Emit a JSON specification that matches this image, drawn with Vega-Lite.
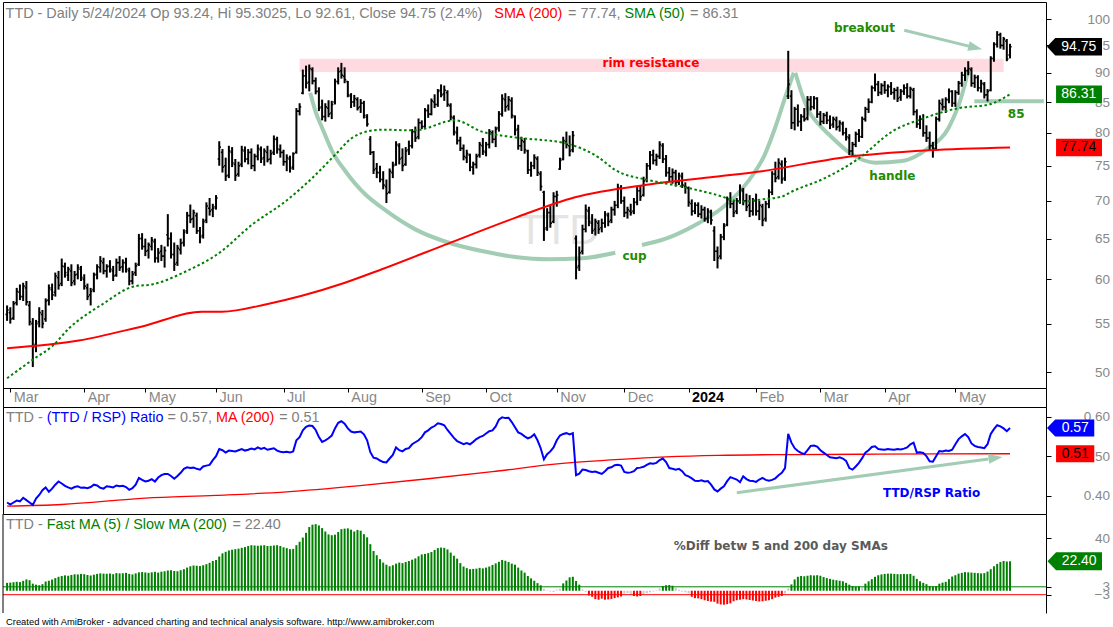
{
  "$schema": "https://vega.github.io/schema/vega-lite/v6.json",
  "background": "#ffffff",
  "padding": {"left": 1, "top": 1, "right": 0, "bottom": 0},
  "config": {
    "view": {"stroke": "#000000", "strokeWidth": 1},
    "axis": {"grid": false, "labelFont": "Liberation Sans", "labelColor": "#888888", "tickColor": "#000000", "domainColor": "#000000", "labelOverlap": false, "labelFlush": false, "labelBound": false},
    "text": {"font": "Liberation Sans"}
  },
  "datasets": {
    "bars": [
      {"i":-1,"o":56.0,"h":57.0,"l":55.3,"c":56.5,"r":0.383,"d":6.0},
      {"i":0,"o":56.2,"h":56.8,"l":55.0,"c":55.5,"r":0.378,"d":6.2},
      {"i":1,"o":55.6,"h":57.5,"l":55.4,"c":57.2,"r":0.383,"d":6.5},
      {"i":2,"o":57.3,"h":59.0,"l":57.0,"c":58.6,"r":0.388,"d":6.8},
      {"i":3,"o":58.5,"h":59.4,"l":57.6,"c":58.0,"r":0.386,"d":6.6},
      {"i":4,"o":58.0,"h":59.6,"l":57.5,"c":59.2,"r":0.395,"d":7.5},
      {"i":5,"o":59.0,"h":59.8,"l":57.0,"c":57.4,"r":0.389,"d":8.6},
      {"i":6,"o":57.0,"h":57.5,"l":54.8,"c":55.2,"r":0.383,"d":8.0},
      {"i":7,"o":55.0,"h":55.6,"l":50.5,"c":52.5,"r":0.377,"d":5.4},
      {"i":8,"o":52.8,"h":55.4,"l":52.0,"c":55.0,"r":0.393,"d":4.6},
      {"i":9,"o":55.2,"h":56.8,"l":54.6,"c":56.2,"r":0.402,"d":4.2},
      {"i":10,"o":56.0,"h":56.5,"l":54.5,"c":55.0,"r":0.414,"d":5.0},
      {"i":11,"o":55.5,"h":57.8,"l":55.2,"c":57.5,"r":0.421,"d":7.0},
      {"i":12,"o":57.6,"h":59.4,"l":57.0,"c":59.0,"r":0.410,"d":7.6},
      {"i":13,"o":58.8,"h":59.5,"l":57.6,"c":58.2,"r":0.418,"d":8.5},
      {"i":14,"o":58.5,"h":60.8,"l":58.0,"c":60.4,"r":0.428,"d":9.6},
      {"i":15,"o":60.2,"h":61.0,"l":58.8,"c":59.3,"r":0.436,"d":10.6},
      {"i":16,"o":59.5,"h":62.5,"l":59.2,"c":61.6,"r":0.431,"d":11.2},
      {"i":17,"o":61.5,"h":62.0,"l":60.2,"c":60.8,"r":0.425,"d":11.7},
      {"i":18,"o":60.5,"h":61.5,"l":59.8,"c":61.2,"r":0.421,"d":11.4},
      {"i":19,"o":61.0,"h":61.8,"l":59.2,"c":59.6,"r":0.418,"d":12.0},
      {"i":20,"o":59.8,"h":61.0,"l":59.3,"c":60.5,"r":0.422,"d":12.5},
      {"i":21,"o":60.6,"h":61.8,"l":60.0,"c":61.4,"r":0.424,"d":12.4},
      {"i":22,"o":61.2,"h":61.6,"l":59.8,"c":60.2,"r":0.420,"d":12.8},
      {"i":23,"o":60.0,"h":60.6,"l":58.8,"c":59.2,"r":0.421,"d":12.6},
      {"i":24,"o":59.0,"h":59.5,"l":57.6,"c":58.0,"r":0.419,"d":12.0},
      {"i":25,"o":58.2,"h":59.0,"l":57.0,"c":58.6,"r":0.422,"d":11.6},
      {"i":26,"o":58.8,"h":60.8,"l":58.5,"c":60.5,"r":0.428,"d":12.2},
      {"i":27,"o":60.6,"h":61.8,"l":60.0,"c":61.5,"r":0.426,"d":12.8},
      {"i":28,"o":61.4,"h":62.8,"l":60.8,"c":62.2,"r":0.420,"d":13.2},
      {"i":29,"o":62.0,"h":62.6,"l":60.6,"c":61.0,"r":0.418,"d":13.0},
      {"i":30,"o":61.0,"h":61.8,"l":60.2,"c":61.5,"r":0.424,"d":12.9},
      {"i":31,"o":61.6,"h":62.3,"l":60.8,"c":61.2,"r":0.423,"d":13.1},
      {"i":32,"o":61.0,"h":61.6,"l":59.8,"c":60.4,"r":0.421,"d":12.6},
      {"i":33,"o":60.5,"h":62.5,"l":60.3,"c":62.0,"r":0.426,"d":13.4},
      {"i":34,"o":62.0,"h":62.8,"l":61.0,"c":61.4,"r":0.424,"d":13.2},
      {"i":35,"o":61.5,"h":62.4,"l":60.8,"c":62.0,"r":0.425,"d":13.3},
      {"i":36,"o":62.0,"h":62.6,"l":60.8,"c":61.2,"r":0.422,"d":13.6},
      {"i":37,"o":61.0,"h":61.4,"l":59.3,"c":59.8,"r":0.415,"d":12.8},
      {"i":38,"o":59.8,"h":61.0,"l":59.4,"c":60.6,"r":0.419,"d":12.4},
      {"i":39,"o":60.8,"h":62.0,"l":60.4,"c":61.6,"r":0.428,"d":13.2},
      {"i":40,"o":61.8,"h":65.6,"l":61.6,"c":65.0,"r":0.445,"d":14.0},
      {"i":41,"o":65.0,"h":65.7,"l":63.6,"c":64.0,"r":0.440,"d":14.2},
      {"i":42,"o":64.0,"h":65.0,"l":62.8,"c":63.4,"r":0.436,"d":13.9},
      {"i":43,"o":63.5,"h":64.5,"l":62.5,"c":64.2,"r":0.438,"d":13.6},
      {"i":44,"o":64.0,"h":65.2,"l":63.5,"c":64.8,"r":0.442,"d":14.0},
      {"i":45,"o":64.6,"h":65.0,"l":62.0,"c":62.6,"r":0.436,"d":14.4},
      {"i":46,"o":62.5,"h":63.8,"l":62.0,"c":63.2,"r":0.446,"d":13.8},
      {"i":47,"o":63.4,"h":64.2,"l":62.2,"c":62.8,"r":0.452,"d":14.5},
      {"i":48,"o":62.8,"h":64.0,"l":61.4,"c":63.5,"r":0.455,"d":14.8},
      {"i":49,"o":65.5,"h":68.2,"l":64.0,"c":65.0,"r":0.455,"d":15.4},
      {"i":50,"o":65.0,"h":65.8,"l":62.5,"c":63.0,"r":0.450,"d":15.6},
      {"i":51,"o":63.0,"h":64.5,"l":61.0,"c":61.8,"r":0.443,"d":15.0},
      {"i":52,"o":62.0,"h":64.2,"l":61.6,"c":63.8,"r":0.450,"d":14.8},
      {"i":53,"o":63.6,"h":65.0,"l":63.0,"c":64.4,"r":0.458,"d":15.6},
      {"i":54,"o":64.5,"h":66.2,"l":64.0,"c":65.8,"r":0.468,"d":16.4},
      {"i":55,"o":66.0,"h":68.5,"l":65.6,"c":68.0,"r":0.472,"d":17.6},
      {"i":56,"o":68.0,"h":69.5,"l":67.0,"c":67.5,"r":0.470,"d":18.6},
      {"i":57,"o":67.6,"h":68.8,"l":66.4,"c":68.4,"r":0.471,"d":19.2},
      {"i":58,"o":68.0,"h":68.4,"l":65.6,"c":66.0,"r":0.468,"d":19.0},
      {"i":59,"o":66.0,"h":66.5,"l":64.4,"c":65.2,"r":0.466,"d":18.8},
      {"i":60,"o":65.4,"h":67.6,"l":65.0,"c":67.2,"r":0.474,"d":19.4},
      {"i":61,"o":67.4,"h":69.8,"l":67.0,"c":69.3,"r":0.476,"d":20.2},
      {"i":62,"o":69.0,"h":70.4,"l":68.0,"c":68.6,"r":0.478,"d":21.2},
      {"i":63,"o":68.8,"h":69.6,"l":67.8,"c":69.0,"r":0.490,"d":22.6},
      {"i":64,"o":69.2,"h":70.8,"l":68.8,"c":70.4,"r":0.500,"d":23.4},
      {"i":65,"o":76.0,"h":78.7,"l":75.0,"c":77.8,"r":0.518,"d":26.0},
      {"i":66,"o":77.0,"h":77.5,"l":74.0,"c":74.8,"r":0.515,"d":28.4},
      {"i":67,"o":75.0,"h":76.2,"l":72.8,"c":73.5,"r":0.509,"d":29.6},
      {"i":68,"o":73.6,"h":78.0,"l":73.2,"c":77.2,"r":0.514,"d":30.6},
      {"i":69,"o":77.0,"h":77.8,"l":74.8,"c":75.4,"r":0.513,"d":31.2},
      {"i":70,"o":75.2,"h":76.0,"l":72.8,"c":73.6,"r":0.512,"d":31.6},
      {"i":71,"o":73.8,"h":75.6,"l":73.4,"c":75.0,"r":0.515,"d":32.0},
      {"i":72,"o":75.2,"h":78.0,"l":74.8,"c":77.4,"r":0.518,"d":32.6},
      {"i":73,"o":77.2,"h":77.9,"l":75.5,"c":76.0,"r":0.514,"d":33.2},
      {"i":74,"o":76.0,"h":77.5,"l":75.2,"c":77.0,"r":0.516,"d":34.0},
      {"i":75,"o":77.0,"h":77.6,"l":74.5,"c":75.0,"r":0.519,"d":34.6},
      {"i":76,"o":75.0,"h":76.8,"l":74.2,"c":76.4,"r":0.517,"d":34.4},
      {"i":77,"o":76.4,"h":78.2,"l":75.8,"c":77.6,"r":0.522,"d":34.2},
      {"i":78,"o":77.4,"h":77.9,"l":75.4,"c":76.0,"r":0.518,"d":34.4},
      {"i":79,"o":76.2,"h":77.6,"l":75.0,"c":77.2,"r":0.521,"d":34.6},
      {"i":80,"o":77.0,"h":78.0,"l":75.5,"c":75.9,"r":0.516,"d":34.0},
      {"i":81,"o":76.0,"h":77.4,"l":75.2,"c":76.8,"r":0.518,"d":34.1},
      {"i":82,"o":77.0,"h":79.6,"l":76.6,"c":79.0,"r":0.520,"d":34.4},
      {"i":83,"o":79.0,"h":79.4,"l":76.8,"c":77.5,"r":0.514,"d":34.6},
      {"i":84,"o":77.4,"h":78.2,"l":76.2,"c":77.0,"r":0.511,"d":34.0},
      {"i":85,"o":77.0,"h":77.4,"l":75.0,"c":75.6,"r":0.510,"d":33.0},
      {"i":86,"o":75.6,"h":76.7,"l":74.2,"c":76.2,"r":0.511,"d":32.4},
      {"i":87,"o":76.0,"h":76.5,"l":74.0,"c":74.6,"r":0.509,"d":31.6},
      {"i":88,"o":74.8,"h":77.0,"l":74.4,"c":76.8,"r":0.512,"d":31.8},
      {"i":89,"o":77.0,"h":84.0,"l":76.8,"c":83.5,"r":0.540,"d":34.6},
      {"i":90,"o":83.5,"h":84.8,"l":82.8,"c":84.2,"r":0.548,"d":37.2},
      {"i":91,"o":86.5,"h":90.6,"l":86.3,"c":89.5,"r":0.565,"d":40.4},
      {"i":92,"o":89.5,"h":91.3,"l":87.3,"c":88.2,"r":0.574,"d":44.0},
      {"i":93,"o":88.4,"h":91.5,"l":86.8,"c":90.8,"r":0.577,"d":48.4},
      {"i":94,"o":90.6,"h":91.0,"l":88.0,"c":88.6,"r":0.576,"d":50.2},
      {"i":95,"o":88.6,"h":89.2,"l":86.3,"c":86.8,"r":0.566,"d":50.6},
      {"i":96,"o":86.8,"h":87.5,"l":83.5,"c":84.0,"r":0.548,"d":49.6},
      {"i":97,"o":84.2,"h":85.4,"l":82.0,"c":82.6,"r":0.536,"d":47.6},
      {"i":98,"o":82.6,"h":84.8,"l":81.8,"c":84.2,"r":0.540,"d":45.0},
      {"i":99,"o":84.0,"h":85.3,"l":82.5,"c":83.0,"r":0.545,"d":42.8},
      {"i":100,"o":83.2,"h":85.2,"l":82.2,"c":84.6,"r":0.552,"d":42.2},
      {"i":101,"o":85.0,"h":89.0,"l":84.6,"c":88.5,"r":0.570,"d":42.6},
      {"i":102,"o":88.5,"h":91.0,"l":88.0,"c":90.2,"r":0.584,"d":44.6},
      {"i":103,"o":90.4,"h":91.8,"l":89.0,"c":89.6,"r":0.588,"d":46.8},
      {"i":104,"o":89.4,"h":91.0,"l":88.2,"c":88.8,"r":0.582,"d":47.2},
      {"i":105,"o":88.5,"h":88.6,"l":85.8,"c":86.2,"r":0.570,"d":47.4},
      {"i":106,"o":86.0,"h":86.5,"l":84.0,"c":85.0,"r":0.562,"d":46.4},
      {"i":107,"o":85.0,"h":86.2,"l":84.2,"c":85.6,"r":0.560,"d":45.0},
      {"i":108,"o":85.4,"h":85.8,"l":83.6,"c":84.0,"r":0.561,"d":46.2},
      {"i":109,"o":84.2,"h":85.5,"l":83.2,"c":84.8,"r":0.562,"d":45.6},
      {"i":110,"o":84.8,"h":85.2,"l":82.3,"c":82.8,"r":0.555,"d":43.0},
      {"i":111,"o":82.5,"h":83.0,"l":81.0,"c":81.4,"r":0.540,"d":40.6},
      {"i":112,"o":79.0,"h":79.5,"l":76.6,"c":77.0,"r":0.510,"d":35.4},
      {"i":113,"o":77.0,"h":77.2,"l":73.8,"c":74.4,"r":0.496,"d":30.2},
      {"i":114,"o":74.6,"h":75.4,"l":73.2,"c":74.0,"r":0.494,"d":27.0},
      {"i":115,"o":74.0,"h":75.0,"l":72.6,"c":73.0,"r":0.489,"d":24.0},
      {"i":116,"o":73.0,"h":74.2,"l":71.6,"c":72.2,"r":0.485,"d":21.4},
      {"i":117,"o":72.0,"h":73.0,"l":69.7,"c":71.0,"r":0.484,"d":19.8},
      {"i":118,"o":71.2,"h":74.6,"l":71.0,"c":74.2,"r":0.494,"d":18.6},
      {"i":119,"o":74.0,"h":75.6,"l":73.2,"c":75.0,"r":0.503,"d":19.4},
      {"i":120,"o":75.2,"h":78.7,"l":75.0,"c":78.2,"r":0.522,"d":20.6},
      {"i":121,"o":78.0,"h":78.4,"l":75.2,"c":76.0,"r":0.515,"d":21.4},
      {"i":122,"o":76.2,"h":77.6,"l":74.2,"c":75.0,"r":0.512,"d":21.0},
      {"i":123,"o":75.2,"h":77.8,"l":75.0,"c":77.2,"r":0.518,"d":21.8},
      {"i":124,"o":77.4,"h":78.8,"l":76.6,"c":78.0,"r":0.520,"d":22.6},
      {"i":125,"o":78.0,"h":80.6,"l":77.6,"c":80.2,"r":0.530,"d":23.6},
      {"i":126,"o":80.2,"h":81.0,"l":78.6,"c":79.2,"r":0.535,"d":24.6},
      {"i":127,"o":79.4,"h":82.3,"l":79.0,"c":81.6,"r":0.540,"d":26.2},
      {"i":128,"o":81.6,"h":82.0,"l":80.6,"c":81.0,"r":0.548,"d":27.6},
      {"i":129,"o":81.0,"h":84.0,"l":80.8,"c":83.6,"r":0.560,"d":28.0},
      {"i":130,"o":83.6,"h":84.6,"l":82.4,"c":83.0,"r":0.565,"d":28.6},
      {"i":131,"o":83.0,"h":85.6,"l":82.8,"c":85.2,"r":0.572,"d":29.4},
      {"i":132,"o":85.0,"h":86.3,"l":84.0,"c":84.6,"r":0.576,"d":31.0},
      {"i":133,"o":84.6,"h":87.2,"l":84.2,"c":86.8,"r":0.583,"d":32.4},
      {"i":134,"o":87.0,"h":88.0,"l":85.8,"c":86.2,"r":0.581,"d":32.8},
      {"i":135,"o":86.4,"h":87.8,"l":85.2,"c":87.0,"r":0.578,"d":32.6},
      {"i":136,"o":86.6,"h":87.0,"l":84.2,"c":84.6,"r":0.566,"d":31.4},
      {"i":137,"o":84.4,"h":84.8,"l":82.0,"c":82.6,"r":0.556,"d":29.0},
      {"i":138,"o":82.4,"h":82.8,"l":79.6,"c":80.2,"r":0.546,"d":26.6},
      {"i":139,"o":80.0,"h":81.0,"l":78.2,"c":78.8,"r":0.538,"d":24.4},
      {"i":140,"o":78.8,"h":79.4,"l":77.2,"c":77.6,"r":0.534,"d":21.0},
      {"i":141,"o":77.6,"h":78.2,"l":75.8,"c":76.4,"r":0.530,"d":18.4},
      {"i":142,"o":76.2,"h":77.4,"l":75.4,"c":76.8,"r":0.533,"d":17.2},
      {"i":143,"o":76.6,"h":76.8,"l":74.2,"c":74.8,"r":0.530,"d":16.4},
      {"i":144,"o":74.8,"h":75.6,"l":73.7,"c":75.2,"r":0.536,"d":16.6},
      {"i":145,"o":75.2,"h":76.8,"l":74.6,"c":76.4,"r":0.543,"d":16.8},
      {"i":146,"o":76.6,"h":78.6,"l":76.2,"c":78.2,"r":0.548,"d":17.4},
      {"i":147,"o":78.0,"h":79.2,"l":76.6,"c":77.2,"r":0.551,"d":17.0},
      {"i":148,"o":77.0,"h":78.6,"l":76.4,"c":78.2,"r":0.557,"d":17.6},
      {"i":149,"o":78.2,"h":80.6,"l":77.6,"c":80.2,"r":0.563,"d":18.4},
      {"i":150,"o":80.0,"h":80.4,"l":78.4,"c":79.0,"r":0.565,"d":19.6},
      {"i":151,"o":79.0,"h":81.0,"l":77.8,"c":80.6,"r":0.575,"d":20.8},
      {"i":152,"o":80.8,"h":83.5,"l":80.2,"c":83.0,"r":0.592,"d":22.0},
      {"i":153,"o":83.0,"h":86.3,"l":82.6,"c":85.6,"r":0.598,"d":23.4},
      {"i":154,"o":85.4,"h":86.5,"l":83.4,"c":84.2,"r":0.596,"d":22.8},
      {"i":155,"o":84.4,"h":86.0,"l":83.6,"c":85.4,"r":0.597,"d":21.8},
      {"i":156,"o":85.2,"h":85.8,"l":82.3,"c":82.8,"r":0.586,"d":20.6},
      {"i":157,"o":82.6,"h":82.8,"l":79.6,"c":80.4,"r":0.573,"d":19.8},
      {"i":158,"o":80.6,"h":81.3,"l":77.4,"c":78.0,"r":0.560,"d":17.6},
      {"i":159,"o":78.0,"h":79.4,"l":77.2,"c":78.8,"r":0.556,"d":15.4},
      {"i":160,"o":78.6,"h":79.2,"l":76.8,"c":77.4,"r":0.550,"d":13.8},
      {"i":161,"o":77.2,"h":77.4,"l":73.8,"c":74.4,"r":0.545,"d":11.2},
      {"i":162,"o":74.4,"h":75.6,"l":73.4,"c":75.0,"r":0.548,"d":9.4},
      {"i":163,"o":75.0,"h":76.7,"l":74.5,"c":76.2,"r":0.555,"d":7.6},
      {"i":164,"o":76.0,"h":76.4,"l":73.5,"c":74.0,"r":0.540,"d":5.8},
      {"i":165,"o":73.8,"h":74.2,"l":71.4,"c":72.0,"r":0.520,"d":4.2},
      {"i":166,"o":71.2,"h":71.4,"l":64.7,"c":66.2,"r":0.492,"d":1.6},
      {"i":167,"o":66.4,"h":69.0,"l":66.0,"c":68.4,"r":0.505,"d":0.4},
      {"i":168,"o":68.4,"h":69.4,"l":66.4,"c":67.0,"r":0.512,"d":-0.6},
      {"i":169,"o":67.2,"h":71.2,"l":67.0,"c":70.6,"r":0.522,"d":-1.0},
      {"i":170,"o":70.6,"h":71.4,"l":69.2,"c":70.8,"r":0.540,"d":0.8},
      {"i":171,"o":74.5,"h":76.2,"l":74.4,"c":75.8,"r":0.552,"d":1.6},
      {"i":172,"o":76.0,"h":79.4,"l":75.8,"c":78.8,"r":0.556,"d":5.6},
      {"i":173,"o":78.6,"h":80.2,"l":77.6,"c":78.2,"r":0.558,"d":7.8},
      {"i":174,"o":78.0,"h":79.6,"l":76.4,"c":77.2,"r":0.555,"d":10.2},
      {"i":175,"o":77.4,"h":80.3,"l":77.0,"c":79.6,"r":0.558,"d":10.6},
      {"i":176,"o":65.0,"h":65.4,"l":60.0,"c":61.4,"r":0.452,"d":7.4},
      {"i":177,"o":61.6,"h":64.0,"l":61.0,"c":63.2,"r":0.456,"d":4.6},
      {"i":178,"o":63.4,"h":66.8,"l":63.0,"c":66.2,"r":0.466,"d":1.0},
      {"i":179,"o":66.2,"h":69.5,"l":65.8,"c":68.8,"r":0.465,"d":-0.8},
      {"i":180,"o":68.6,"h":69.2,"l":66.6,"c":67.2,"r":0.462,"d":-3.6},
      {"i":181,"o":67.0,"h":68.2,"l":65.6,"c":66.0,"r":0.460,"d":-4.6},
      {"i":182,"o":66.2,"h":67.6,"l":65.4,"c":67.2,"r":0.461,"d":-6.4},
      {"i":183,"o":67.0,"h":67.4,"l":65.6,"c":66.2,"r":0.458,"d":-6.8},
      {"i":184,"o":66.4,"h":67.6,"l":65.8,"c":67.0,"r":0.455,"d":-6.0},
      {"i":185,"o":67.0,"h":68.6,"l":66.4,"c":68.2,"r":0.462,"d":-6.8},
      {"i":186,"o":68.0,"h":68.4,"l":66.6,"c":67.2,"r":0.470,"d":-6.6},
      {"i":187,"o":67.4,"h":69.2,"l":67.0,"c":68.8,"r":0.472,"d":-6.2},
      {"i":188,"o":68.8,"h":70.0,"l":68.0,"c":69.4,"r":0.477,"d":-5.6},
      {"i":189,"o":69.4,"h":72.4,"l":69.0,"c":71.8,"r":0.478,"d":-5.0},
      {"i":190,"o":71.8,"h":72.2,"l":69.6,"c":70.0,"r":0.476,"d":-4.4},
      {"i":191,"o":70.0,"h":70.6,"l":67.8,"c":68.4,"r":0.460,"d":-2.2},
      {"i":192,"o":68.4,"h":69.2,"l":67.6,"c":68.8,"r":0.458,"d":-1.8},
      {"i":193,"o":68.6,"h":69.6,"l":68.0,"c":68.4,"r":0.459,"d":-2.4},
      {"i":194,"o":68.6,"h":70.4,"l":68.2,"c":69.8,"r":0.462,"d":-4.0},
      {"i":195,"o":69.8,"h":72.0,"l":69.4,"c":71.4,"r":0.470,"d":-4.4},
      {"i":196,"o":71.4,"h":72.2,"l":70.0,"c":70.6,"r":0.471,"d":-4.0},
      {"i":197,"o":70.8,"h":73.4,"l":70.6,"c":72.8,"r":0.473,"d":-2.6},
      {"i":198,"o":73.0,"h":75.4,"l":72.6,"c":75.0,"r":0.478,"d":-1.8},
      {"i":199,"o":75.0,"h":77.2,"l":74.4,"c":76.6,"r":0.482,"d":-1.2},
      {"i":200,"o":76.6,"h":77.4,"l":75.2,"c":75.8,"r":0.481,"d":-0.6},
      {"i":201,"o":75.8,"h":76.8,"l":75.0,"c":76.4,"r":0.483,"d":0.4},
      {"i":202,"o":76.4,"h":78.7,"l":76.0,"c":78.2,"r":0.490,"d":1.8},
      {"i":203,"o":78.0,"h":78.4,"l":75.4,"c":76.0,"r":0.494,"d":3.6},
      {"i":204,"o":76.0,"h":76.6,"l":73.4,"c":74.0,"r":0.485,"d":4.2},
      {"i":205,"o":74.0,"h":74.8,"l":72.6,"c":73.4,"r":0.470,"d":4.4},
      {"i":206,"o":73.4,"h":74.6,"l":72.4,"c":74.0,"r":0.468,"d":3.8},
      {"i":207,"o":74.0,"h":74.4,"l":72.0,"c":72.6,"r":0.466,"d":2.2},
      {"i":208,"o":72.6,"h":74.0,"l":72.2,"c":73.6,"r":0.468,"d":0.8},
      {"i":209,"o":73.4,"h":74.0,"l":71.8,"c":72.2,"r":0.462,"d":-0.6},
      {"i":210,"o":72.0,"h":72.6,"l":71.0,"c":71.9,"r":0.452,"d":-1.2},
      {"i":211,"o":71.8,"h":72.0,"l":69.2,"c":69.8,"r":0.449,"d":-2.0},
      {"i":212,"o":69.6,"h":70.2,"l":68.0,"c":68.6,"r":0.444,"d":-4.6},
      {"i":213,"o":68.6,"h":69.8,"l":68.2,"c":69.4,"r":0.438,"d":-5.6},
      {"i":214,"o":69.4,"h":69.8,"l":67.8,"c":68.2,"r":0.437,"d":-5.8},
      {"i":215,"o":68.2,"h":69.4,"l":67.6,"c":68.8,"r":0.439,"d":-6.4},
      {"i":216,"o":68.8,"h":69.2,"l":67.2,"c":67.6,"r":0.436,"d":-7.2},
      {"i":217,"o":67.6,"h":69.0,"l":67.0,"c":68.6,"r":0.437,"d":-7.8},
      {"i":218,"o":68.4,"h":68.8,"l":66.8,"c":67.4,"r":0.428,"d":-8.2},
      {"i":219,"o":66.0,"h":66.6,"l":62.2,"c":63.4,"r":0.416,"d":-8.4},
      {"i":220,"o":63.4,"h":64.0,"l":61.3,"c":62.6,"r":0.411,"d":-9.8},
      {"i":221,"o":62.8,"h":65.6,"l":62.4,"c":65.2,"r":0.418,"d":-10.4},
      {"i":222,"o":65.2,"h":67.0,"l":64.8,"c":66.6,"r":0.424,"d":-10.6},
      {"i":223,"o":66.8,"h":70.6,"l":66.6,"c":70.2,"r":0.437,"d":-10.2},
      {"i":224,"o":70.2,"h":71.2,"l":69.0,"c":69.6,"r":0.447,"d":-9.6},
      {"i":225,"o":69.6,"h":70.0,"l":67.8,"c":68.4,"r":0.444,"d":-8.0},
      {"i":226,"o":68.6,"h":70.4,"l":68.2,"c":70.0,"r":0.441,"d":-7.2},
      {"i":227,"o":70.0,"h":72.3,"l":69.6,"c":71.6,"r":0.434,"d":-6.8},
      {"i":228,"o":71.4,"h":71.8,"l":69.4,"c":70.0,"r":0.449,"d":-6.4},
      {"i":229,"o":70.0,"h":71.0,"l":68.6,"c":69.2,"r":0.442,"d":-6.6},
      {"i":230,"o":69.4,"h":70.8,"l":67.8,"c":68.6,"r":0.438,"d":-7.0},
      {"i":231,"o":68.6,"h":70.4,"l":68.0,"c":70.0,"r":0.437,"d":-7.4},
      {"i":232,"o":70.0,"h":71.0,"l":68.0,"c":68.6,"r":0.435,"d":-7.8},
      {"i":233,"o":68.6,"h":70.0,"l":67.4,"c":69.4,"r":0.441,"d":-8.2},
      {"i":234,"o":69.2,"h":69.6,"l":66.6,"c":67.4,"r":0.445,"d":-8.0},
      {"i":235,"o":67.6,"h":70.0,"l":67.2,"c":69.6,"r":0.440,"d":-7.6},
      {"i":236,"o":69.6,"h":71.6,"l":69.0,"c":71.2,"r":0.438,"d":-7.2},
      {"i":237,"o":71.2,"h":74.2,"l":70.8,"c":73.8,"r":0.440,"d":-6.4},
      {"i":238,"o":73.8,"h":75.6,"l":72.6,"c":73.2,"r":0.444,"d":-5.2},
      {"i":239,"o":73.4,"h":76.1,"l":73.0,"c":75.4,"r":0.452,"d":-4.6},
      {"i":240,"o":75.2,"h":75.8,"l":72.4,"c":73.0,"r":0.458,"d":-4.0},
      {"i":241,"o":73.2,"h":76.2,"l":72.8,"c":75.6,"r":0.470,"d":-2.2},
      {"i":242,"o":86.0,"h":94.0,"l":85.5,"c":88.0,"r":0.556,"d":1.8},
      {"i":243,"o":86.0,"h":87.0,"l":80.6,"c":81.6,"r":0.534,"d":4.8},
      {"i":244,"o":81.6,"h":84.2,"l":80.4,"c":83.8,"r":0.520,"d":8.6},
      {"i":245,"o":83.8,"h":84.6,"l":81.0,"c":81.8,"r":0.513,"d":10.6},
      {"i":246,"o":81.8,"h":83.0,"l":80.3,"c":82.6,"r":0.508,"d":11.2},
      {"i":247,"o":82.6,"h":84.0,"l":81.8,"c":82.2,"r":0.505,"d":11.0},
      {"i":248,"o":82.4,"h":86.0,"l":82.0,"c":85.4,"r":0.515,"d":11.4},
      {"i":249,"o":85.4,"h":86.0,"l":83.6,"c":84.2,"r":0.526,"d":11.8},
      {"i":250,"o":84.2,"h":86.0,"l":83.8,"c":85.6,"r":0.527,"d":11.6},
      {"i":251,"o":85.6,"h":85.8,"l":82.4,"c":83.0,"r":0.524,"d":11.8},
      {"i":252,"o":83.0,"h":83.5,"l":81.2,"c":81.8,"r":0.515,"d":11.4},
      {"i":253,"o":81.8,"h":83.2,"l":81.4,"c":82.8,"r":0.509,"d":10.4},
      {"i":254,"o":82.8,"h":83.4,"l":81.4,"c":82.0,"r":0.503,"d":9.6},
      {"i":255,"o":82.0,"h":82.8,"l":80.6,"c":81.2,"r":0.497,"d":9.0},
      {"i":256,"o":81.4,"h":82.6,"l":80.8,"c":82.2,"r":0.496,"d":8.4},
      {"i":257,"o":82.0,"h":82.6,"l":80.4,"c":80.9,"r":0.495,"d":8.0},
      {"i":258,"o":81.0,"h":82.0,"l":80.2,"c":81.6,"r":0.497,"d":7.6},
      {"i":259,"o":81.4,"h":81.8,"l":79.6,"c":80.0,"r":0.494,"d":7.2},
      {"i":260,"o":80.0,"h":80.8,"l":78.8,"c":79.4,"r":0.488,"d":6.0},
      {"i":261,"o":79.2,"h":79.8,"l":76.6,"c":77.2,"r":0.470,"d":4.6},
      {"i":262,"o":77.2,"h":78.6,"l":76.4,"c":78.2,"r":0.466,"d":3.6},
      {"i":263,"o":78.2,"h":80.2,"l":77.8,"c":79.8,"r":0.474,"d":3.2},
      {"i":264,"o":79.8,"h":80.6,"l":78.6,"c":79.4,"r":0.483,"d":3.4},
      {"i":265,"o":79.4,"h":82.6,"l":79.2,"c":82.2,"r":0.495,"d":2.4},
      {"i":266,"o":82.2,"h":84.2,"l":81.8,"c":83.8,"r":0.509,"d":5.4},
      {"i":267,"o":83.8,"h":85.6,"l":83.2,"c":85.0,"r":0.515,"d":7.2},
      {"i":268,"o":85.0,"h":87.8,"l":84.8,"c":87.4,"r":0.523,"d":8.8},
      {"i":269,"o":87.4,"h":89.9,"l":86.8,"c":88.0,"r":0.525,"d":10.6},
      {"i":270,"o":88.0,"h":88.6,"l":86.0,"c":86.6,"r":0.518,"d":11.8},
      {"i":271,"o":86.6,"h":88.2,"l":86.2,"c":87.8,"r":0.517,"d":12.4},
      {"i":272,"o":87.8,"h":88.6,"l":86.4,"c":87.0,"r":0.516,"d":12.8},
      {"i":273,"o":87.0,"h":88.0,"l":85.8,"c":87.6,"r":0.518,"d":13.0},
      {"i":274,"o":87.6,"h":88.4,"l":86.2,"c":86.6,"r":0.517,"d":13.0},
      {"i":275,"o":86.6,"h":87.4,"l":85.4,"c":87.0,"r":0.516,"d":12.8},
      {"i":276,"o":87.0,"h":87.6,"l":85.0,"c":85.6,"r":0.518,"d":12.6},
      {"i":277,"o":85.8,"h":87.2,"l":85.2,"c":86.8,"r":0.517,"d":12.6},
      {"i":278,"o":86.8,"h":88.0,"l":86.2,"c":87.4,"r":0.519,"d":12.8},
      {"i":279,"o":87.4,"h":88.2,"l":85.6,"c":86.0,"r":0.522,"d":12.6},
      {"i":280,"o":86.0,"h":87.6,"l":85.6,"c":87.2,"r":0.530,"d":12.8},
      {"i":281,"o":87.0,"h":87.4,"l":82.8,"c":83.4,"r":0.534,"d":11.4},
      {"i":282,"o":83.4,"h":83.8,"l":80.8,"c":81.4,"r":0.509,"d":9.0},
      {"i":283,"o":81.4,"h":82.8,"l":80.6,"c":82.2,"r":0.510,"d":7.2},
      {"i":284,"o":82.2,"h":83.0,"l":79.4,"c":80.0,"r":0.508,"d":6.0},
      {"i":285,"o":80.0,"h":81.2,"l":78.6,"c":79.2,"r":0.500,"d":5.0},
      {"i":286,"o":79.2,"h":80.2,"l":77.2,"c":78.0,"r":0.487,"d":3.6},
      {"i":287,"o":78.0,"h":78.6,"l":76.2,"c":77.6,"r":0.486,"d":3.2},
      {"i":288,"o":77.6,"h":82.6,"l":77.4,"c":82.2,"r":0.500,"d":3.6},
      {"i":289,"o":82.2,"h":85.4,"l":81.8,"c":84.8,"r":0.513,"d":5.4},
      {"i":290,"o":84.6,"h":85.6,"l":83.6,"c":84.2,"r":0.512,"d":6.2},
      {"i":291,"o":84.2,"h":85.8,"l":83.2,"c":85.4,"r":0.514,"d":6.8},
      {"i":292,"o":85.4,"h":87.3,"l":84.8,"c":86.8,"r":0.513,"d":8.8},
      {"i":293,"o":86.8,"h":87.0,"l":84.2,"c":84.8,"r":0.516,"d":10.8},
      {"i":294,"o":84.8,"h":87.0,"l":84.2,"c":86.6,"r":0.530,"d":11.8},
      {"i":295,"o":86.6,"h":88.6,"l":86.2,"c":88.2,"r":0.543,"d":13.0},
      {"i":296,"o":88.2,"h":90.2,"l":87.6,"c":89.6,"r":0.550,"d":13.6},
      {"i":297,"o":89.6,"h":91.0,"l":88.6,"c":90.4,"r":0.556,"d":14.2},
      {"i":298,"o":90.4,"h":92.1,"l":89.6,"c":90.8,"r":0.548,"d":14.0},
      {"i":299,"o":90.6,"h":91.0,"l":87.6,"c":88.2,"r":0.532,"d":13.8},
      {"i":300,"o":88.2,"h":89.7,"l":87.4,"c":89.2,"r":0.526,"d":13.6},
      {"i":301,"o":89.2,"h":89.6,"l":86.8,"c":87.4,"r":0.523,"d":13.4},
      {"i":302,"o":87.4,"h":88.8,"l":86.6,"c":88.2,"r":0.522,"d":13.2},
      {"i":303,"o":88.0,"h":88.4,"l":85.6,"c":86.2,"r":0.520,"d":13.4},
      {"i":304,"o":86.2,"h":87.2,"l":85.1,"c":86.8,"r":0.530,"d":14.6},
      {"i":305,"o":87.0,"h":93.0,"l":86.8,"c":92.6,"r":0.556,"d":16.4},
      {"i":306,"o":92.6,"h":95.6,"l":92.0,"c":95.2,"r":0.568,"d":18.6},
      {"i":307,"o":95.2,"h":97.7,"l":94.6,"c":97.0,"r":0.578,"d":20.4},
      {"i":308,"o":97.0,"h":97.4,"l":94.4,"c":95.0,"r":0.575,"d":21.8},
      {"i":309,"o":95.0,"h":96.6,"l":94.2,"c":96.2,"r":0.570,"d":22.6},
      {"i":310,"o":95.8,"h":96.2,"l":92.1,"c":92.5,"r":0.563,"d":22.2},
      {"i":311,"o":93.24,"h":95.3025,"l":92.61,"c":94.75,"r":0.571,"d":22.4}
    ],
    "s200": [
      {"i":-1,"v":52.4},{"i":21.3,"v":53.2},{"i":41,"v":54.7},{"i":59.6,"v":56.3},{"i":65.8,"v":56.3},
      {"i":80.4,"v":57.2},{"i":90.7,"v":58.1},{"i":104.1,"v":59.6},{"i":115.6,"v":61.2},{"i":136.4,"v":64.4},
      {"i":157,"v":67.7},{"i":175.7,"v":70.5},{"i":198.7,"v":72.3},{"i":219.2,"v":73.4},{"i":233.8,"v":74.2},
      {"i":258.7,"v":76.2},{"i":285.8,"v":77.3},{"i":311,"v":77.74}
    ],
    "s50": [
      {"i":-1,"v":49.4},{"i":7.7,"v":51.4},{"i":13,"v":52.6},{"i":18.3,"v":54.5},{"i":28.5,"v":57.1},
      {"i":38.8,"v":59.2},{"i":44.1,"v":59.4},{"i":54.4,"v":60.9},{"i":65,"v":63.2},{"i":75.2,"v":66.8},
      {"i":85.5,"v":69.9},{"i":93.9,"v":73.2},{"i":101,"v":76.6},{"i":106.3,"v":79.2},{"i":111.6,"v":80.3},
      {"i":115.6,"v":80.5},{"i":125.9,"v":80.4},{"i":138.3,"v":82.0},{"i":146.7,"v":80.2},{"i":157,"v":79.3},
      {"i":172.6,"v":78.4},{"i":183.1,"v":76.2},{"i":188.1,"v":74.4},{"i":198.7,"v":72.9},{"i":208.9,"v":72.0},
      {"i":219.2,"v":70.9},{"i":227.6,"v":69.9},{"i":233.8,"v":70.2},{"i":240.1,"v":70.6},{"i":243.2,"v":71.3},
      {"i":253.4,"v":73.2},{"i":264,"v":76.1},{"i":274.3,"v":80.2},{"i":284.5,"v":82.4},{"i":295.1,"v":84.0},
      {"i":304.5,"v":84.6},{"i":311,"v":86.31}
    ],
    "rma": [
      {"i":-1,"v":0.374},{"i":16,"v":0.378},{"i":42,"v":0.394},{"i":64,"v":0.401},{"i":86,"v":0.410},
      {"i":108,"v":0.425},{"i":130,"v":0.443},{"i":150,"v":0.461},{"i":171,"v":0.481},{"i":190,"v":0.492},
      {"i":204,"v":0.498},{"i":220,"v":0.502},{"i":243,"v":0.504},{"i":270,"v":0.505},{"i":311,"v":0.506}
    ],
    "arcs": [
      {"g":1,"i":93.3,"p":86.57},{"g":1,"i":94.9,"p":83.51},{"g":1,"i":97.0,"p":80.82},{"g":1,"i":100.1,"p":77.20},
      {"g":1,"i":104.2,"p":74.23},{"g":1,"i":110.4,"p":70.91},{"g":1,"i":115.6,"p":69.07},{"g":1,"i":126.0,"p":66.19},
      {"g":1,"i":136.4,"p":64.47},{"g":1,"i":146.7,"p":63.43},{"g":1,"i":157.1,"p":62.69},{"g":1,"i":167.5,"p":62.41},
      {"g":1,"i":177.8,"p":62.53},{"g":1,"i":188.2,"p":63.22},
      {"g":2,"i":196.5,"p":64.18},{"g":2,"i":203.7,"p":64.95},{"g":2,"i":214.2,"p":67.02},{"g":2,"i":221.4,"p":69.02},
      {"g":2,"i":227.6,"p":71.65},{"g":2,"i":231.4,"p":73.94},{"g":2,"i":234.5,"p":76.44},{"g":2,"i":237.9,"p":80.77},
      {"g":2,"i":241.0,"p":85.68},{"g":2,"i":243.7,"p":90.04},
      {"g":3,"i":244.2,"p":90.04},{"g":3,"i":246.3,"p":86.30},{"g":3,"i":248.4,"p":83.51},{"g":3,"i":251.5,"p":81.36},
      {"g":3,"i":254.6,"p":79.78},{"g":3,"i":261.8,"p":76.70},{"g":3,"i":269.1,"p":75.45},{"g":3,"i":277.4,"p":75.70},
      {"g":3,"i":285.7,"p":77.70},{"g":3,"i":291.9,"p":80.82},{"g":3,"i":296.1,"p":86.30},{"g":3,"i":298.1,"p":90.64}
    ]
  },
  "bounds": "flush",
  "spacing": 0,
  "resolve": {"scale": {"x": "independent", "y": "independent", "color": "independent", "fill": "independent", "shape": "independent"}},
  "vconcat": [
    {
      "width": 1043,
      "height": 405,
      "layer": [
        {
          "data": {"values": [{}]},
          "mark": {"type": "rect", "color": "#ffdbe1"},
          "encoding": {
            "x": {"datum": 90, "type": "quantitative", "scale": {"domain": [-2.271, 322.19], "nice": false, "zero": false}, "title": null},
            "x2": {"datum": 309},
            "y": {"datum": 90.15, "type": "quantitative", "scale": {"type": "log", "domain": [46.69, 103.46], "nice": false}, "title": null},
            "y2": {"datum": 92.55}
          }
        },
        {
          "data": {"values": [{"i": 170.6, "p": 65.98, "t": "TTD"}]},
          "mark": {"type": "text", "font": "Liberation Sans", "fontSize": 42, "color": "#e4e4e4", "align": "center", "baseline": "middle"},
          "encoding": {
            "x": {"field": "i", "type": "quantitative", "title": null},
            "y": {"field": "p", "type": "quantitative", "title": null},
            "text": {"field": "t"}
          }
        },
        {
          "data": {"name": "arcs"},
          "mark": {"type": "line", "color": "#a2cdb4", "strokeWidth": 4, "interpolate": "monotone"},
          "encoding": {
            "x": {"field": "i", "type": "quantitative", "title": null},
            "y": {"field": "p", "type": "quantitative", "title": null},
            "detail": {"field": "g"}
          }
        },
        {
          "data": {"values": [{}]},
          "mark": {"type": "rule", "color": "#a2cdb4", "strokeWidth": 4},
          "encoding": {
            "x": {"datum": 299.9, "type": "quantitative", "title": null},
            "x2": {"datum": 321.5},
            "y": {"datum": 85.12, "type": "quantitative", "title": null}
          }
        },
        {
          "data": {"values": [{}]},
          "mark": {"type": "rule", "color": "#a2cdb4", "strokeWidth": 3},
          "encoding": {
            "x": {"datum": 278.1, "type": "quantitative", "title": null},
            "y": {"datum": 97.86, "type": "quantitative", "title": null},
            "x2": {"datum": 298.5},
            "y2": {"datum": 94.83}
          }
        },
        {
          "data": {"values": [{}]},
          "mark": {"type": "point", "shape": "M1,0L-1,-0.7L-1,0.7Z", "size": 196, "angle": 13.7, "filled": true, "color": "#a2cdb4", "opacity": 1},
          "encoding": {
            "x": {"datum": 300.2, "type": "quantitative", "title": null},
            "y": {"datum": 94.59, "type": "quantitative", "title": null}
          }
        },
        {
          "data": {"name": "bars"},
          "mark": {"type": "rule", "color": "#000000", "strokeWidth": 2},
          "encoding": {
            "x": {
              "field": "i", "type": "quantitative", "title": null,
              "scale": {"domain": [-2.271, 322.19], "nice": false, "zero": false},
              "axis": {
                "orient": "bottom", "offset": -19, "title": null,
                "values": [0, 23, 42, 64, 85, 105, 128, 148, 170, 191, 211, 232, 252, 272, 294],
                "labelExpr": "['Mar','Apr','May','Jun','Jul','Aug','Sep','Oct','Nov','Dec','2024','Feb','Mar','Apr','May'][indexof([0,23,42,64,85,105,128,148,170,191,211,232,252,272,294], datum.value)]",
                "domain": true, "tickSize": 4, "labelAlign": "left", "labelBaseline": "middle",
                "labelPadding": 5.7, "labelOffset": 3, "labelFontSize": 14.4,
                "labelColor": {"condition": {"test": "datum.value == 211", "value": "#000000"}, "value": "#888888"},
                "labelFontWeight": {"condition": {"test": "datum.value == 211", "value": "bold"}, "value": "normal"}
              }
            },
            "y": {
              "field": "l", "type": "quantitative", "title": null,
              "scale": {"type": "log", "domain": [46.69, 103.46], "nice": false},
              "axis": {
                "orient": "right", "title": null, "values": [50, 55, 60, 65, 70, 75, 80, 85, 90, 95, 100],
                "domain": false, "tickSize": 5, "labelAlign": "right", "labelBaseline": "middle",
                "labelPadding": 58.5, "labelFontSize": 13.5
              }
            },
            "y2": {"field": "h"}
          }
        },
        {
          "data": {"name": "bars"},
          "mark": {"type": "point", "shape": "M-1.6,0H0", "size": 4, "filled": false, "color": "#000000", "strokeWidth": 1.6, "opacity": 1},
          "encoding": {
            "x": {"field": "i", "type": "quantitative", "title": null},
            "y": {"field": "o", "type": "quantitative", "title": null}
          }
        },
        {
          "data": {"name": "bars"},
          "mark": {"type": "point", "shape": "M0,0H1.6", "size": 4, "filled": false, "color": "#000000", "strokeWidth": 1.6, "opacity": 1},
          "encoding": {
            "x": {"field": "i", "type": "quantitative", "title": null},
            "y": {"field": "c", "type": "quantitative", "title": null}
          }
        },
        {
          "data": {"name": "s200"},
          "mark": {"type": "line", "color": "#ff0000", "strokeWidth": 2, "interpolate": "monotone"},
          "encoding": {
            "x": {"field": "i", "type": "quantitative", "title": null},
            "y": {"field": "v", "type": "quantitative", "title": null}
          }
        },
        {
          "data": {"name": "s50"},
          "mark": {"type": "line", "color": "#008000", "strokeWidth": 2, "strokeDash": [2.5, 2.5], "interpolate": "monotone"},
          "encoding": {
            "x": {"field": "i", "type": "quantitative", "title": null},
            "y": {"field": "v", "type": "quantitative", "title": null}
          }
        },
        {
          "data": {"values": [
            {"i": 265.7, "p": 98.4, "t": "breakout"},
            {"i": 274.4, "p": 73.54, "t": "handle"},
            {"i": 194.2, "p": 62.81, "t": "cup"},
            {"i": 312.9, "p": 82.99, "t": "85"}
          ]},
          "mark": {"type": "text", "font": "DejaVu Sans", "fontWeight": "bold", "fontSize": 12, "color": "#228b00", "align": "center", "baseline": "middle"},
          "encoding": {
            "x": {"field": "i", "type": "quantitative", "title": null},
            "y": {"field": "p", "type": "quantitative", "title": null},
            "text": {"field": "t"}
          }
        },
        {
          "data": {"values": [{"i": 199.3, "p": 91.72, "t": "rim resistance"}]},
          "mark": {"type": "text", "font": "DejaVu Sans", "fontWeight": "bold", "fontSize": 12, "color": "#ff0000", "align": "center", "baseline": "middle"},
          "encoding": {
            "x": {"field": "i", "type": "quantitative", "title": null},
            "y": {"field": "p", "type": "quantitative", "title": null},
            "text": {"field": "t"}
          }
        },
        {
          "data": {"values": [
            {"i": -1.46, "t": "TTD - Daily 5/24/2024 Op 93.24, Hi 95.3025, Lo 92.61, Close 94.75 (2.4%)", "k": "n"},
            {"i": 150.56, "t": "SMA (200)", "k": "r"},
            {"i": 173.49, "t": "= 77.74,", "k": "n"},
            {"i": 191.07, "t": "SMA (50)", "k": "g"},
            {"i": 211.44, "t": "= 86.31", "k": "n"}
          ]},
          "mark": {"type": "text", "font": "Liberation Sans", "fontSize": 14.4, "align": "left", "baseline": "alphabetic"},
          "encoding": {
            "x": {"field": "i", "type": "quantitative", "title": null},
            "y": {"datum": 100.31, "type": "quantitative", "title": null},
            "text": {"field": "t"},
            "color": {"field": "k", "type": "nominal", "scale": {"domain": ["n", "r", "g", "b"], "range": ["#808080", "#ff0000", "#008000", "#0000ff"]}, "legend": null}
          }
        },
        {
          "data": {"values": [
            {"v": 94.75, "t": "94.75", "k": "a"},
            {"v": 86.31, "t": "86.31", "k": "g"},
            {"v": 77.74, "t": "77.74", "k": "r"}
          ]},
          "mark": {"type": "point", "filled": true, "size": 3025, "opacity": 1, "strokeWidth": 0},
          "encoding": {
            "x": {"datum": 331.05, "type": "quantitative", "title": null},
            "y": {"field": "v", "type": "quantitative", "title": null},
            "shape": {"field": "k", "type": "nominal", "scale": {"domain": ["a", "g", "r"], "range": ["M-1,0L-0.7,-0.32L1,-0.32L1,0.32L-0.7,0.32Z", "M-0.67,-0.32L1,-0.32L1,0.32L-0.67,0.32Z", "M-0.67,-0.32L1,-0.32L1,0.32L-0.67,0.32Z"]}, "legend": null},
            "fill": {"field": "k", "type": "nominal", "scale": {"domain": ["a", "g", "r"], "range": ["#000000", "#008000", "#ff0000"]}, "legend": null}
          }
        },
        {
          "data": {"values": [
            {"v": 94.75, "t": "94.75", "k": "a"},
            {"v": 86.31, "t": "86.31", "k": "g"},
            {"v": 77.74, "t": "77.74", "k": "r"}
          ]},
          "mark": {"type": "text", "font": "Liberation Sans", "fontSize": 14, "align": "center", "baseline": "middle"},
          "encoding": {
            "x": {"datum": 332.4, "type": "quantitative", "title": null},
            "y": {"field": "v", "type": "quantitative", "title": null},
            "text": {"field": "t"},
            "color": {"condition": {"test": "datum.k == 'r'", "value": "#000000"}, "value": "#ffffff"}
          }
        }
      ]
    },
    {
      "width": 1043,
      "height": 107,
      "layer": [
        {
          "data": {"name": "rma"},
          "mark": {"type": "line", "color": "#ff0000", "strokeWidth": 1.3, "interpolate": "monotone"},
          "encoding": {
            "x": {"field": "i", "type": "quantitative", "title": null, "scale": {"domain": [-2.271, 322.19], "nice": false, "zero": false}, "axis": {"labels": false, "ticks": false, "domain": false, "title": null}},
            "y": {"field": "v", "type": "quantitative", "title": null, "scale": {"domain": [0.354, 0.624], "nice": false, "zero": false}}
          }
        },
        {
          "data": {"name": "bars"},
          "mark": {"type": "line", "color": "#0000ff", "strokeWidth": 2},
          "encoding": {
            "x": {"field": "i", "type": "quantitative", "title": null},
            "y": {
              "field": "r", "type": "quantitative", "title": null,
              "scale": {"domain": [0.354, 0.624], "nice": false, "zero": false},
              "axis": {
                "orient": "right", "title": null, "values": [0.4, 0.45, 0.5, 0.55, 0.6], "format": ".2f",
                "domain": false, "tickSize": 5, "labelAlign": "right", "labelBaseline": "middle",
                "labelPadding": 58.5, "labelFontSize": 13.5
              }
            }
          }
        },
        {
          "data": {"values": [{}]},
          "mark": {"type": "rule", "color": "#a2cdb4", "strokeWidth": 3},
          "encoding": {
            "x": {"datum": 226.0, "type": "quantitative", "title": null},
            "y": {"datum": 0.4076, "type": "quantitative", "title": null},
            "x2": {"datum": 304.3},
            "y2": {"datum": 0.493}
          }
        },
        {
          "data": {"values": [{}]},
          "mark": {"type": "point", "shape": "M1,0L-1,-0.7L-1,0.7Z", "size": 196, "angle": -7.66, "filled": true, "color": "#a2cdb4", "opacity": 1},
          "encoding": {
            "x": {"datum": 306.5, "type": "quantitative", "title": null},
            "y": {"datum": 0.4955, "type": "quantitative", "title": null}
          }
        },
        {
          "data": {"values": [{"i": 286.6, "v": 0.408, "t": "TTD/RSP Ratio"}]},
          "mark": {"type": "text", "font": "DejaVu Sans", "fontWeight": "bold", "fontSize": 12, "color": "#0000ff", "align": "center", "baseline": "middle"},
          "encoding": {
            "x": {"field": "i", "type": "quantitative", "title": null},
            "y": {"field": "v", "type": "quantitative", "title": null},
            "text": {"field": "t"}
          }
        },
        {
          "data": {"values": [
            {"i": -1.34, "t": "TTD -", "k": "n"},
            {"i": 11.35, "t": "(TTD / RSP) Ratio", "k": "b"},
            {"i": 48.93, "t": "= 0.57,", "k": "n"},
            {"i": 63.99, "t": "MA (200)", "k": "r"},
            {"i": 83.65, "t": "= 0.51", "k": "n"}
          ]},
          "mark": {"type": "text", "font": "Liberation Sans", "fontSize": 14.4, "align": "left", "baseline": "alphabetic"},
          "encoding": {
            "x": {"field": "i", "type": "quantitative", "title": null},
            "y": {"datum": 0.5869, "type": "quantitative", "title": null},
            "text": {"field": "t"},
            "color": {"field": "k", "type": "nominal", "scale": {"domain": ["n", "r", "g", "b"], "range": ["#808080", "#ff0000", "#008000", "#0000ff"]}, "legend": null}
          }
        },
        {
          "data": {"values": [
            {"v": 0.571, "t": "0.57", "k": "b"},
            {"v": 0.506, "t": "0.51", "k": "r"}
          ]},
          "mark": {"type": "point", "filled": true, "size": 3025, "opacity": 1, "strokeWidth": 0},
          "encoding": {
            "x": {"datum": 331.05, "type": "quantitative", "title": null},
            "y": {"field": "v", "type": "quantitative", "title": null},
            "shape": {"field": "k", "type": "nominal", "scale": {"domain": ["b", "r"], "range": ["M-1,0L-0.7,-0.31L0.72,-0.31L0.72,0.31L-0.7,0.31Z", "M-0.67,-0.31L0.72,-0.31L0.72,0.31L-0.67,0.31Z"]}, "legend": null},
            "fill": {"field": "k", "type": "nominal", "scale": {"domain": ["b", "r"], "range": ["#0000ff", "#ff0000"]}, "legend": null}
          }
        },
        {
          "data": {"values": [
            {"v": 0.571, "t": "0.57", "k": "b"},
            {"v": 0.506, "t": "0.51", "k": "r"}
          ]},
          "mark": {"type": "text", "font": "Liberation Sans", "fontSize": 14, "align": "center", "baseline": "middle"},
          "encoding": {
            "x": {"datum": 331.3, "type": "quantitative", "title": null},
            "y": {"field": "v", "type": "quantitative", "title": null},
            "text": {"field": "t"},
            "color": {"condition": {"test": "datum.k == 'r'", "value": "#000000"}, "value": "#ffffff"}
          }
        }
      ]
    },
    {
      "width": 1043,
      "height": 99,
      "view": {"stroke": null},
      "layer": [
        {
          "data": {"name": "bars"},
          "mark": {"type": "rule", "strokeWidth": 2},
          "encoding": {
            "x": {"field": "i", "type": "quantitative", "title": null, "scale": {"domain": [-2.271, 322.19], "nice": false, "zero": false}, "axis": {"labels": false, "ticks": false, "domain": false, "title": null}},
            "y": {
              "field": "d", "type": "quantitative", "title": null,
              "scale": {"domain": [-16.9, 58.3], "nice": false, "zero": false},
              "axis": {
                "orient": "right", "title": null, "values": [-3, 0, 3, 20, 40],
                "domain": true, "tickSize": 5, "labelAlign": "right", "labelBaseline": "middle",
                "labelPadding": 58.5, "labelFontSize": 13.5
              }
            },
            "y2": {"datum": 0},
            "color": {"condition": [{"test": "datum.d > 3", "value": "#008000"}, {"test": "datum.d < -3", "value": "#ff0000"}], "value": "#c8c8c8"}
          }
        },
        {
          "data": {"values": [{}]},
          "mark": {"type": "rule", "color": "#008000", "strokeWidth": 1},
          "encoding": {"y": {"datum": 3, "type": "quantitative", "title": null}}
        },
        {
          "data": {"values": [{}]},
          "mark": {"type": "rule", "color": "#ff0000", "strokeWidth": 1},
          "encoding": {"y": {"datum": -3, "type": "quantitative", "title": null}}
        },
        {
          "data": {"values": [{}]},
          "mark": {"type": "rule", "color": "#000000", "strokeWidth": 1},
          "encoding": {"x": {"datum": -2.271, "type": "quantitative", "title": null}}
        },
        {
          "data": {"values": [{"i": 239.7, "v": 34.2, "t": "%Diff betw 5 and 200 day SMAs"}]},
          "mark": {"type": "text", "font": "DejaVu Sans", "fontWeight": "bold", "fontSize": 12, "color": "#5a5a5a", "align": "center", "baseline": "middle"},
          "encoding": {
            "x": {"field": "i", "type": "quantitative", "title": null},
            "y": {"field": "v", "type": "quantitative", "title": null},
            "text": {"field": "t"}
          }
        },
        {
          "data": {"values": [
            {"i": -1.34, "t": "TTD -", "k": "n"},
            {"i": 11.35, "t": "Fast MA (5) / Slow MA (200)", "k": "g"},
            {"i": 69.09, "t": "= 22.40", "k": "n"}
          ]},
          "mark": {"type": "text", "font": "Liberation Sans", "fontSize": 14.4, "align": "left", "baseline": "alphabetic"},
          "encoding": {
            "x": {"field": "i", "type": "quantitative", "title": null},
            "y": {"datum": 46.9, "type": "quantitative", "title": null},
            "text": {"field": "t"},
            "color": {"field": "k", "type": "nominal", "scale": {"domain": ["n", "r", "g", "b"], "range": ["#808080", "#ff0000", "#008000", "#0000ff"]}, "legend": null}
          }
        },
        {
          "data": {"values": [{"v": 22.4, "t": "22.40"}]},
          "mark": {"type": "point", "filled": true, "size": 3025, "opacity": 1, "strokeWidth": 0, "shape": "M-0.98,0L-0.67,-0.33L1,-0.33L1,0.33L-0.67,0.33Z", "color": "#008000"},
          "encoding": {
            "x": {"datum": 331.05, "type": "quantitative", "title": null},
            "y": {"field": "v", "type": "quantitative", "title": null}
          }
        },
        {
          "data": {"values": [{"v": 22.4, "t": "22.40"}]},
          "mark": {"type": "text", "font": "Liberation Sans", "fontSize": 14, "align": "center", "baseline": "middle", "color": "#ffffff"},
          "encoding": {
            "x": {"datum": 332.5, "type": "quantitative", "title": null},
            "y": {"field": "v", "type": "quantitative", "title": null},
            "text": {"field": "t"}
          }
        },
        {
          "data": {"values": [{"i": -1.34, "v": -23.7, "t": "Created with AmiBroker - advanced charting and technical analysis software. http://www.amibroker.com"}]},
          "mark": {"type": "text", "font": "Liberation Sans", "fontSize": 9.4, "color": "#000000", "align": "left", "baseline": "middle"},
          "encoding": {
            "x": {"field": "i", "type": "quantitative", "title": null},
            "y": {"field": "v", "type": "quantitative", "title": null},
            "text": {"field": "t"}
          }
        }
      ]
    }
  ]
}
